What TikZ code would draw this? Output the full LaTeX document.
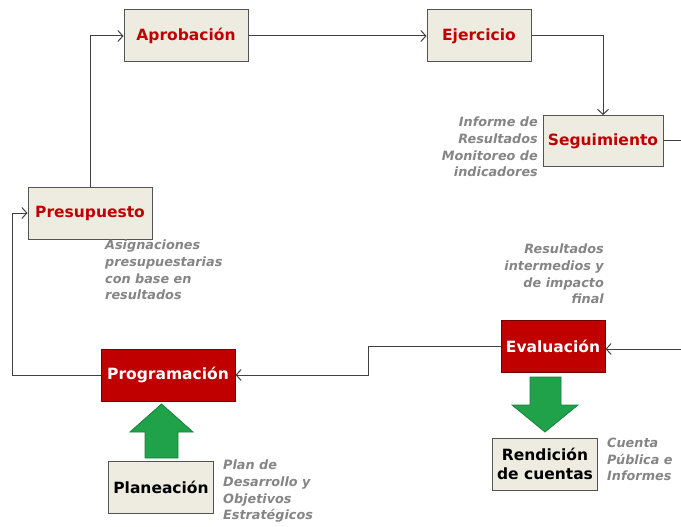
\documentclass[tikz,border=0pt]{standalone}
\usepackage{fontspec}
\setmainfont{DejaVu Sans}
\usetikzlibrary{arrows.meta}

\definecolor{boxfill}{HTML}{EEECE1}
\definecolor{boxred}{HTML}{C00000}
\definecolor{notegray}{HTML}{858585}
\definecolor{arrowgreen}{HTML}{1FA24A}
\definecolor{linegray}{HTML}{404040}

\tikzset{
  stage/.style={draw=linegray!90,fill=boxfill,line width=1pt,minimum height=52pt,
    inner sep=0pt,font=\fontsize{15.5}{19}\selectfont\bfseries,text=boxred},
  keystage/.style={stage,fill=boxred,draw=boxred!60!black,text=white},
  plainstage/.style={stage,text=black,align=center},
  note/.style={inner sep=0pt,text=notegray,font=\fontsize{12.8}{16.6}\selectfont\bfseries\itshape},
  flow/.style={draw=linegray,line width=1pt,-{Straight Barb[length=5pt,width=11pt]}},
  blockarrow/.style={fill=arrowgreen,draw=arrowgreen!80!black,line width=0.8pt}
}

\begin{document}
\begin{tikzpicture}[x=1pt,y=-1pt]
  \useasboundingbox (0,0) rectangle (681,527);

  % etapas
  \node[stage,minimum width=124pt] (apro) at (186,36) {Aprobación};
  \node[stage,minimum width=104pt] (ejer) at (479,36) {Ejercicio};
  \node[stage,minimum width=120pt,minimum height=51pt] (segu) at (603,141) {Seguimiento};
  \node[stage,minimum width=124pt] (pres) at (90,213) {Presupuesto};
  \node[keystage,minimum width=134pt] (prog) at (168,375) {Programación};
  \node[keystage,minimum width=104pt] (eval) at (553,346) {Evaluación};
  \node[plainstage,minimum width=105pt] (plan) at (161,487) {Planeación};
  \node[plainstage,minimum width=105pt] (rend) at (545,464) {Rendición\\de cuentas};

  % notas
  \node[note,anchor=north west,align=left] (asig) at (105,240)
    {Asignaciones\\presupuestarias\\con base en\\resultados};
  \node[note,anchor=north east,align=right] (info) at (538,117)
    {Informe de\\Resultados\\Monitoreo de\\indicadores};
  \node[note,anchor=north east,align=right] (resu) at (604,244)
    {Resultados\\intermedios y\\de impacto\\final};
  \node[note,anchor=north west,align=left] (pdes) at (223,460)
    {Plan de\\Desarrollo y\\Objetivos\\Estratégicos};
  \node[note,anchor=north west,align=left] (cuen) at (607,438)
    {Cuenta\\Pública e\\Informes};

  % puntos de quiebre y extremos libres
  \coordinate (segout) at (681,141);
  \coordinate (evalin) at (681,349);
  \coordinate (kink) at (368,360);
  \coordinate (lft) at (12,300);

  % conexiones
  \draw[flow] (pres.north) |- (apro.west);
  \draw[flow] (apro) -- (ejer);
  \draw[flow] (ejer.east) -| (segu.north);
  \draw[draw=linegray,line width=1pt] (segu.east) -- (segout);
  \draw[flow] (evalin) -- (evalin -| eval.east);
  \draw[flow] (eval.west) -- (eval.west -| kink) -- (kink |- prog.east) -- (prog.east);
  \draw[flow] (prog.west) -- (prog.west -| lft) |- (pres.west);

  % flechas verdes
  \draw[blockarrow] (145,458) -- (145,432) -- (130,432) -- (161.5,404) -- (193,432)
    -- (178,432) -- (178,458) -- cycle;
  \draw[blockarrow] (530,377) -- (530,405) -- (512,405) -- (545,432) -- (578,405)
    -- (561,405) -- (561,377) -- cycle;
\end{tikzpicture}
\end{document}
